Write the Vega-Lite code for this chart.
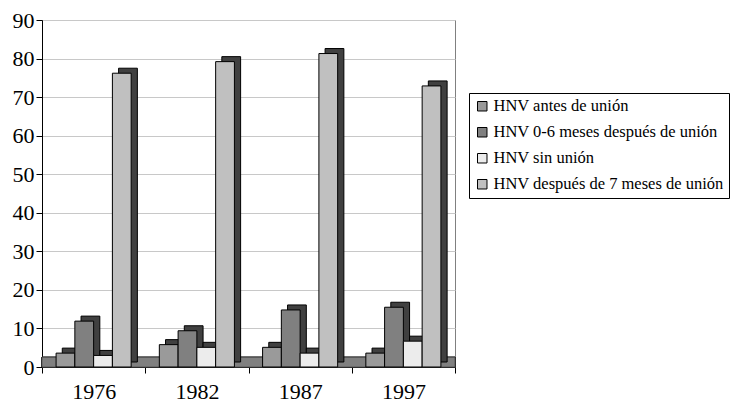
{
  "$schema": "https://vega.github.io/schema/vega-lite/v6.json",
  "width": 413,
  "height": 347,
  "padding": {"left": 12, "top": 9, "right": 0, "bottom": 0},
  "background": "white",
  "config": {
    "font": "Liberation Serif",
    "view": {"stroke": "#808080", "strokeWidth": 1}
  },
  "data": {
    "values": [
      {"year": "1976", "serie": "HNV antes de unión", "valor": 3.6},
      {"year": "1976", "serie": "HNV 0-6 meses después de unión", "valor": 11.9},
      {"year": "1976", "serie": "HNV sin unión", "valor": 3.0},
      {"year": "1976", "serie": "HNV después de 7 meses de unión", "valor": 76.2},
      {"year": "1982", "serie": "HNV antes de unión", "valor": 5.8},
      {"year": "1982", "serie": "HNV 0-6 meses después de unión", "valor": 9.4},
      {"year": "1982", "serie": "HNV sin unión", "valor": 5.1},
      {"year": "1982", "serie": "HNV después de 7 meses de unión", "valor": 79.2},
      {"year": "1987", "serie": "HNV antes de unión", "valor": 5.1},
      {"year": "1987", "serie": "HNV 0-6 meses después de unión", "valor": 14.8},
      {"year": "1987", "serie": "HNV sin unión", "valor": 3.6},
      {"year": "1987", "serie": "HNV después de 7 meses de unión", "valor": 81.3},
      {"year": "1997", "serie": "HNV antes de unión", "valor": 3.6},
      {"year": "1997", "serie": "HNV 0-6 meses después de unión", "valor": 15.5},
      {"year": "1997", "serie": "HNV sin unión", "valor": 6.7},
      {"year": "1997", "serie": "HNV después de 7 meses de unión", "valor": 72.9}
    ]
  },
  "encoding": {
    "x": {
      "field": "year",
      "type": "nominal",
      "scale": {"paddingInner": 0, "paddingOuter": 0},
      "axis": {
        "title": null,
        "labelAngle": 0,
        "labelFontSize": 22,
        "labelColor": "black",
        "labelPadding": 8,
        "domainColor": "black",
        "tickColor": "black",
        "tickSize": 6,
        "tickBand": "extent",
        "grid": false
      }
    },
    "y": {
      "field": "valor",
      "type": "quantitative",
      "scale": {"domain": [0, 90], "nice": false},
      "axis": {
        "title": null,
        "values": [0, 10, 20, 30, 40, 50, 60, 70, 80, 90],
        "labelFontSize": 22,
        "labelColor": "black",
        "labelPadding": 2,
        "domainColor": "black",
        "tickColor": "black",
        "tickSize": 6,
        "gridColor": "#c8c8c8",
        "minExtent": 30,
        "maxExtent": 30
      }
    }
  },
  "resolve": {"scale": {"xOffset": "independent"}},
  "layer": [
    {
      "mark": {"type": "rect", "fill": "#808080", "stroke": "#303030", "strokeWidth": 0.5},
      "encoding": {
        "x": null,
        "y": {"datum": 0, "type": "quantitative"},
        "y2": {"datum": 2.5}
      }
    },
    {
      "mark": {"type": "bar", "fill": "#404040", "stroke": "black", "strokeWidth": 1, "yOffset": -5, "y2Offset": -5},
      "encoding": {
        "xOffset": {
          "field": "serie",
          "type": "nominal",
          "sort": ["HNV antes de unión", "HNV 0-6 meses después de unión", "HNV sin unión", "HNV después de 7 meses de unión"],
          "scale": {"paddingInner": 0, "paddingOuter": 0.75, "align": 0.72}
        }
      }
    },
    {
      "mark": {"type": "bar", "stroke": "black", "strokeWidth": 1},
      "encoding": {
        "xOffset": {
          "field": "serie",
          "type": "nominal",
          "sort": ["HNV antes de unión", "HNV 0-6 meses después de unión", "HNV sin unión", "HNV después de 7 meses de unión"],
          "scale": {"paddingInner": 0, "paddingOuter": 0.75, "align": 0.5}
        },
        "color": {
          "field": "serie",
          "type": "nominal",
          "sort": ["HNV antes de unión", "HNV 0-6 meses después de unión", "HNV sin unión", "HNV después de 7 meses de unión"],
          "scale": {
            "domain": ["HNV antes de unión", "HNV 0-6 meses después de unión", "HNV sin unión", "HNV después de 7 meses de unión"],
            "range": ["#9a9a9a", "#808080", "#ececec", "#c0c0c0"]
          },
          "legend": {
            "title": null,
            "orient": "none",
            "legendX": 427,
            "legendY": 73,
            "labelFontSize": 16.5,
            "labelColor": "black",
            "labelLimit": 300,
            "labelOffset": 3,
            "symbolType": "square",
            "symbolSize": 90,
            "symbolStrokeColor": "black",
            "symbolStrokeWidth": 1,
            "symbolOpacity": 1,
            "rowPadding": 9,
            "padding": 5,
            "strokeColor": "black",
            "fillColor": "white"
          }
        }
      }
    }
  ]
}
